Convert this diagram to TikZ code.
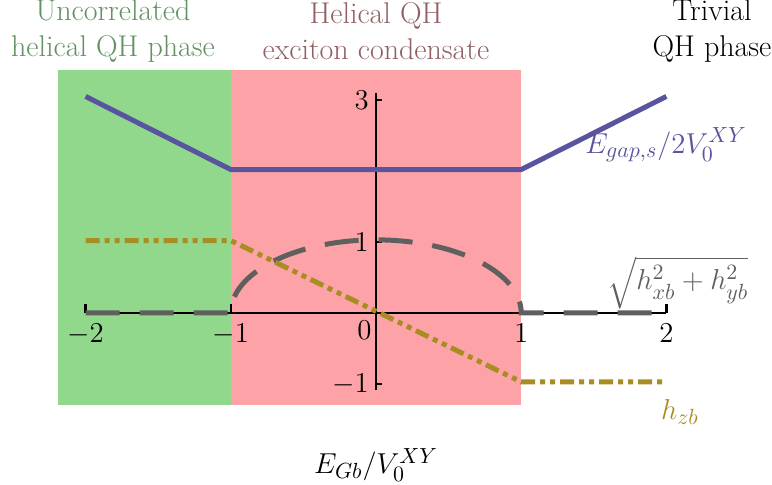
\documentclass[tikz,border=0pt]{standalone}
\usepackage{amsmath}
\usepackage{tikz}
\usetikzlibrary{positioning}

\definecolor{phasegreen}{RGB}{145,216,140}
\definecolor{phasered}{RGB}{253,163,167}
\definecolor{textgreen}{RGB}{98,145,98}
\definecolor{textred}{RGB}{145,95,98}
\definecolor{gapblue}{RGB}{88,84,160}
\definecolor{hgold}{RGB}{168,142,34}
\definecolor{hgray}{RGB}{95,95,95}

\begin{document}
\begin{tikzpicture}[x=72.6pt,y=35.5pt,
                    every node/.style={font=\fontsize{15}{18}\selectfont}]
  \tikzset{gapline/.style={gapblue,line width=2.5pt},
           zline/.style={hgold,line width=2.5pt,
                         dash pattern=on 7pt off 2.5pt on 2.5pt off 2.5pt on 2.5pt off 2.5pt},
           xyline/.style={hgray,line width=2.5pt,dash pattern=on 17pt off 10pt},
           ticklabel/.style={inner sep=2pt}}
  \useasboundingbox (-188pt,-86pt) rectangle (198pt,156.5pt);

  % phases
  \fill[phasegreen] (-159pt,-1.3) rectangle (-1,3.42);
  \fill[phasered] (-1,-1.3) rectangle (1,3.42);

  % axes
  \draw[line width=1.2pt] (-2,0) -- (2,0);
  \draw[line width=1.2pt] (0,-1.08) -- (0,3.1);
  \foreach \x in {-2,-1,1,2}
    \draw[line width=1.2pt] (\x,0) -- (\x,0.12) node[ticklabel,below=3pt] at (\x,0) {$\x$};
  \node[ticklabel,below left=2pt and 0pt] at (0,0) {$0$};
  \foreach \y in {-1,1,3}
    \draw[line width=1.2pt] (0,\y) -- (0.04,\y) node[ticklabel,left=1pt] at (0,\y) {$\y$};

  % curves
  \draw[gapline] (-2,3.05) -- (-1,2.02) -- (1,2.02) -- (2,3.05);
  \draw[xyline] (-2,0) -- (-1,0) arc[start angle=180,end angle=0,x radius=1,y radius=1.03] -- (2,0);
  \draw[zline] (-2,1.02) -- (-1,1.02) -- (1,-0.97) -- (2,-0.97);

  % labels
  \node[textgreen,align=center] (uncorr) at (-131.5pt,141pt) {Uncorrelated\\helical QH phase};
  \node[textred,align=center] (exciton) at (0,141pt) {Helical QH\\exciton condensate};
  \node[align=center] (trivial) at (168pt,141pt) {Trivial\\QH phase};
  \node[gapblue] (gaplabel) at (145pt,84pt) {$E_{gap,s}/2V_0^{XY}$};
  \node[hgray] (xylabel) at (151pt,15pt) {$\sqrt{h_{xb}^2+h_{yb}^2}$};
  \node[hgold] (zlabel) at (152pt,-49.5pt) {$h_{zb}$};
  \node (xlabel) at (0,-76pt) {$E_{Gb}/V_0^{XY}$};
\end{tikzpicture}
\end{document}
